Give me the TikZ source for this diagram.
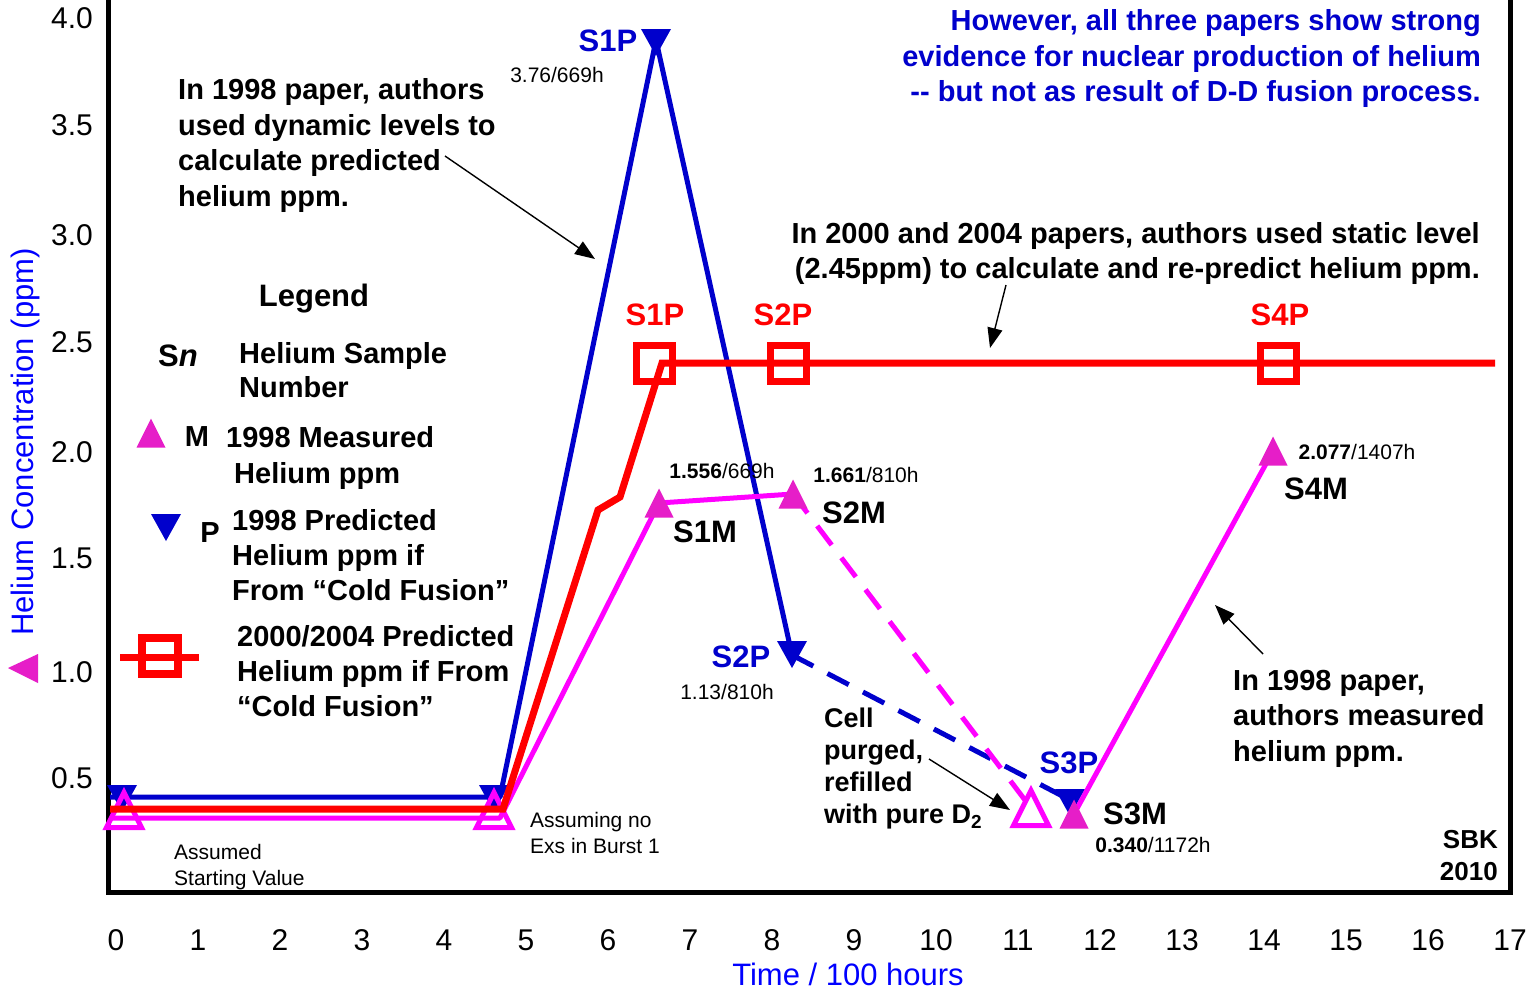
\documentclass[tikz,border=0pt]{standalone}
\usepackage{fontspec}
\setmainfont{Liberation Sans}
\usetikzlibrary{arrows.meta}
\definecolor{pblue}{RGB}{0,0,204}
\definecolor{ablue}{RGB}{0,0,255}
\definecolor{mline}{RGB}{255,0,255}
\definecolor{mfill}{RGB}{230,30,200}
\definecolor{rline}{RGB}{255,0,0}
\begin{document}
\begin{tikzpicture}[x=1bp,y=-1bp,
  tick/.style={font=\fontsize{30bp}{36bp}\selectfont, inner sep=0},
  ann/.style={font=\bfseries\fontsize{29bp}{35.5bp}\selectfont, align=left, inner sep=0},
  small/.style={font=\fontsize{21bp}{26bp}\selectfont, inner sep=0, align=left},
  slab/.style={font=\bfseries\fontsize{31bp}{37bp}\selectfont, inner sep=0},
  bl/.style={draw=pblue, line width=5bp, line join=round},
  ml/.style={draw=mline, line width=5bp, line join=round},
  rl/.style={draw=rline, line width=7bp, line join=miter},
  dashline/.style={dash pattern=on 24bp off 16bp},
  callout/.style={draw=black, line width=1.4bp, -{Triangle[length=20bp,width=15bp]}},
  uptri/.pic={\path[pic actions] (-14.5,14.5) -- (0,-14.5) -- (14.5,14.5) -- cycle;},
  opentri/.pic={\path[pic actions] (-17.5,17.5) -- (0,-17.5) -- (17.5,17.5) -- cycle;},
  dntri/.pic={\path[pic actions] (-15,-13) -- (15,-13) -- (0,14) -- cycle;},
  sqmark/.pic={\path[pic actions] (-18,-18) rectangle (18,18);},
]
\useasboundingbox (0,0) rectangle (1531,991);
\fill[white] (0,0) rectangle (1531,991);

% frame
\draw[line width=5bp, line join=miter] (108,-10) -- (108,892) -- (1510,892) -- (1510,-10);

% y tick labels
\node[tick, anchor=east] (y40) at (93,18) {4.0};
\node[tick, anchor=east] (y35) at (93,125) {3.5};
\node[tick, anchor=east] (y30) at (93,235) {3.0};
\node[tick, anchor=east] (y25) at (93,342) {2.5};
\node[tick, anchor=east] (y20) at (93,452) {2.0};
\node[tick, anchor=east] (y15) at (93,558) {1.5};
\node[tick, anchor=east] (y10) at (93,672) {1.0};
\node[tick, anchor=east] (y05) at (93,778) {0.5};

% x tick labels
\foreach \i in {0,...,17} {
  \node[tick] (x\i) at ({116+82*\i},940) {\i};
}

% axis titles
\node[font=\fontsize{31bp}{37bp}\selectfont, text=ablue, inner sep=0] (xtitle) at (848,974) {Time / 100 hours};
\node[font=\fontsize{31bp}{37bp}\selectfont, text=ablue, inner sep=0, rotate=90] (ytitle) at (25,442) {Helium Concentration (ppm)};
\fill[mfill] (8,668) -- (38,654) -- (38,683) -- cycle;

% data coordinates
\coordinate (b0) at (110,797);
\coordinate (b1) at (500,797);
\coordinate (bS1) at (656,40);
\coordinate (bS2) at (792,655);
\coordinate (bS3) at (1070,800);

\coordinate (r0) at (110,809);
\coordinate (r1) at (503,809);
\coordinate (r2) at (598,510);
\coordinate (r3) at (620,497);
\coordinate (r4) at (662,363);
\coordinate (r5) at (1495,363);

\coordinate (m0) at (110,818);
\coordinate (m1) at (500,818);
\coordinate (mS1) at (659,503);
\coordinate (mS2) at (793,494);
\coordinate (mO) at (1031,808);
\coordinate (mS3) at (1074,814);
\coordinate (mS4) at (1273,451);

% blue (1998 predicted)
\draw[bl] (b0) -- (b1) -- (bS1) -- (bS2);
\draw[bl, dashline] (bS2) -- (bS3);
\pic[fill=pblue] at (122,798) {dntri};
\pic[fill=pblue] at (494,798) {dntri};
\pic[fill=pblue] at (656,42) {dntri};
\pic[fill=pblue] at (792,654) {dntri};
\pic[fill=pblue] at (1070,802) {dntri};

% magenta (1998 measured)
\draw[ml] (m0) -- (m1) -- (mS1) -- (mS2);
\draw[ml, dashline] (mS2) -- (mO);
\draw[ml] (mS3) -- (mS4);
\pic[draw=mline, line width=5bp, line join=miter] at (124,810) {opentri};
\pic[draw=mline, line width=5bp, line join=miter] at (494,810) {opentri};
\pic[draw=mline, line width=5bp, line join=miter] at (1031,808) {opentri};
\pic[fill=mfill] at (659,503) {uptri};
\pic[fill=mfill] at (793,494) {uptri};
\pic[fill=mfill] at (1074,814) {uptri};
\pic[fill=mfill] at (1273,451) {uptri};

% red (2000/2004 predicted)
\draw[rl] (r0) -- (r1) -- (r2) -- (r3) -- (r4) -- (r5);
\pic[draw=rline, line width=7bp] at (654,363) {sqmark};
\pic[draw=rline, line width=7bp] at (788,363) {sqmark};
\pic[draw=rline, line width=7bp] at (1278,363) {sqmark};

% sample labels
\node[slab, text=pblue] (lS1P) at (608,41) {S1P};
\node[slab, text=pblue] (lS2P) at (741,657) {S2P};
\node[slab, text=pblue] (lS3P) at (1069,763) {S3P};
\node[slab, text=rline] (rS1P) at (655,315) {S1P};
\node[slab, text=rline] (rS2P) at (783,315) {S2P};
\node[slab, text=rline] (rS4P) at (1280,315) {S4P};
\node[slab] (lS1M) at (705,532) {S1M};
\node[slab] (lS2M) at (854,513) {S2M};
\node[slab] (lS3M) at (1135,814) {S3M};
\node[slab] (lS4M) at (1316,489) {S4M};

% value labels
\node[small] (v1p) at (557,75) {3.76/669h};
\node[small] (v1m) at (722,471) {{\bfseries 1.556}/669h};
\node[small] (v2m) at (866,475) {{\bfseries 1.661}/810h};
\node[small] (v2p) at (727,692) {1.13/810h};
\node[small] (v3m) at (1153,845) {{\bfseries 0.340}/1172h};
\node[small] (v4m) at (1357,452) {{\bfseries 2.077}/1407h};
\node[small, anchor=north west] (assumed) at (174,844.5) {Assumed\\Starting Value};
\node[small, anchor=north west] (assuming) at (530,812.5) {Assuming no\\Exs in Burst 1};

% annotations
\node[ann, anchor=north west] (a1998p) at (178,78.5) {In 1998 paper, authors\\used dynamic levels to\\calculate predicted\\helium ppm.};
\node[ann, anchor=north east, align=right] (a2000) at (1480,222) {In 2000 and 2004 papers, authors used static level\\(2.45ppm) to calculate and re-predict helium ppm.};
\node[ann, anchor=north east, align=right, text=pblue] (ahowever) at (1481,9.5) {However, all three papers show strong\\evidence for nuclear production of helium\\-{}- but not as result of D-D fusion process.};
\node[ann, anchor=north west] (a1998m) at (1233,670) {In 1998 paper,\\authors measured\\helium ppm.};
\node[ann, anchor=north west, font=\bfseries\fontsize{27bp}{32bp}\selectfont] (acell) at (824,708) {Cell\\purged,\\refilled\\with pure D\textsubscript{2}};
\node[font=\bfseries\fontsize{26bp}{32bp}\selectfont, align=right, anchor=north east, inner sep=0] (sbk) at (1498,830.5) {SBK\\2010};

% callout arrows
\coordinate (c1a) at (445,156);
\coordinate (c1b) at (595,259);
\coordinate (c2a) at (1006,285);
\coordinate (c2b) at (990,348);
\coordinate (c3a) at (1263,654);
\coordinate (c3b) at (1215,605);
\coordinate (c4a) at (929,759);
\coordinate (c4b) at (1010,810);
\draw[callout] (c1a) -- (c1b);
\draw[callout] (c2a) -- (c2b);
\draw[callout] (c3a) -- (c3b);
\draw[callout] (c4a) -- (c4b);

% legend
\node[font=\bfseries\fontsize{31bp}{37bp}\selectfont, inner sep=0] (legend) at (314,299) {Legend};
\node[slab] (lgSn) at (178,356) {S\textit{n}};
\node[ann, anchor=north west, font=\bfseries\fontsize{29bp}{34bp}\selectfont] (lgSnT) at (239,342.5) {Helium Sample\\Number};
\pic[fill=mfill] at (151,433) {uptri};
\node[ann] (lgM) at (197,437) {M};
\node[ann, anchor=north west] (lgMT) at (226,426.5) {1998 Measured\\\hspace*{8bp}Helium ppm};
\pic[fill=pblue] at (166,527) {dntri};
\node[ann] (lgP) at (210,533) {P};
\node[ann, anchor=north west, font=\bfseries\fontsize{29bp}{35bp}\selectfont] (lgPT) at (232,509.5) {1998 Predicted\\Helium ppm if\\From “Cold Fusion”};
\coordinate (lgR0) at (120,657);
\coordinate (lgR1) at (199,657);
\draw[draw=rline, line width=7bp] (lgR0) -- (lgR1);
\pic[draw=rline, line width=8bp] at (160,656) {sqmark};
\node[ann, anchor=north west, font=\bfseries\fontsize{29bp}{35bp}\selectfont] (lgRT) at (237,625.5) {2000/2004 Predicted\\Helium ppm if From\\“Cold Fusion”};
\end{tikzpicture}
\end{document}
